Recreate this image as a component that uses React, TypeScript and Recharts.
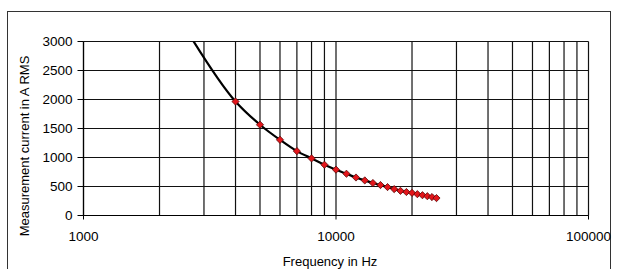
import React from 'react';
import { ComposedChart, Line, Scatter, XAxis, YAxis, CartesianGrid } from 'recharts';

// Measured points (Hz -> A RMS)
const frequencies = [
  4000, 5000, 6000, 7000, 8000, 9000, 10000, 11000, 12000, 13000, 14000,
  15000, 16000, 17000, 18000, 19000, 20000, 21000, 22000, 23000, 24000, 25000,
];
const currents = [
  1965, 1565, 1305, 1110, 985, 875, 790, 720, 655, 605, 560,
  525, 490, 455, 425, 405, 390, 368, 350, 333, 318, 300,
];
// Curve continues to the upper left beyond the plotted points
const curveStartFrequency = 2650;
const curveStartCurrent = 3090;

const xTicks = [
  1000, 2000, 3000, 4000, 5000, 6000, 7000, 8000, 9000,
  10000, 20000, 30000, 40000, 50000, 60000, 70000, 80000, 90000, 100000,
];
const xLabelTicks = [1000, 10000, 100000];
const yTicks = [0, 500, 1000, 1500, 2000, 2500, 3000];

const points = frequencies.map((f, i) => ({ f, a: currents[i] }));
const curve = [{ f: curveStartFrequency, a: curveStartCurrent }, ...points];

const FONT = '"Liberation Sans", Arial, Helvetica, sans-serif';

const X_TICK_SIZE = 4;
const X_TICK_MARGIN = 12;

const Diamond = (props: any) => {
  const { cx, cy } = props;
  if (cx == null || cy == null) return null;
  const r = 3.6;
  return (
    <polygon
      points={`${cx},${cy - r} ${cx + r},${cy} ${cx},${cy + r} ${cx - r},${cy}`}
      fill="#e3161b"
      stroke="#5a0808"
      strokeWidth={0.8}
    />
  );
};

const XTick = (props: any) => {
  const { x, y, payload } = props;
  const v = payload.value;
  if (!xLabelTicks.includes(v)) return null;
  const axisY = y - X_TICK_SIZE - X_TICK_MARGIN;
  return (
    <g>
      <line x1={x} x2={x} y1={axisY} y2={axisY + X_TICK_SIZE} stroke="#000" strokeWidth={1} />
      <text x={x} y={y} dy="0.71em" textAnchor="middle" fontSize={13.5} fontFamily={FONT} fill="#000">
        {v}
      </text>
    </g>
  );
};

const XLabel = () => (
  <text x={330} y={266} textAnchor="middle" fontSize={13} fontFamily={FONT} fill="#000">
    Frequency in Hz
  </text>
);

const YLabel = () => (
  <text
    x={24}
    y={146}
    transform="rotate(-90 24 146)"
    textAnchor="middle"
    dominantBaseline="central"
    fontSize={13}
    fontFamily={FONT}
    fill="#000"
  >
    Measurement current in A RMS
  </text>
);

export default function App() {
  return (
    <div
      style={{
        position: 'absolute',
        left: 0,
        top: 0,
        width: 617,
        height: 269,
        overflow: 'hidden',
        background: '#fff',
        fontFamily: FONT,
      }}
    >
      <div
        style={{
          position: 'absolute',
          left: 7,
          top: 11,
          width: 604,
          height: 300,
          border: '1px solid #333',
          boxSizing: 'border-box',
        }}
      />
      <div style={{ position: 'absolute', left: 0, top: 0 }}>
        <ComposedChart
          width={617}
          height={269}
          margin={{ top: 41.5, right: 28.5, left: 0, bottom: 13.5 }}
        >
          <CartesianGrid stroke="#111" strokeWidth={1.2} />
          <XAxis
            dataKey="f"
            type="number"
            scale="log"
            domain={[1000, 100000]}
            ticks={xTicks}
            interval={0}
            allowDataOverflow
            height={40}
            tickSize={X_TICK_SIZE}
            tickMargin={X_TICK_MARGIN}
            tickLine={false}
            tick={<XTick />}
            axisLine={{ stroke: '#000', strokeWidth: 1.2 }}
            label={<XLabel />}
          />
          <YAxis
            dataKey="a"
            type="number"
            domain={[0, 3000]}
            ticks={yTicks}
            interval={0}
            allowDataOverflow
            width={83.5}
            tickSize={6}
            tickMargin={5}
            tick={{ fontSize: 13.5, fontFamily: FONT, fill: '#000' }}
            tickLine={{ stroke: '#000', strokeWidth: 1 }}
            axisLine={{ stroke: '#000', strokeWidth: 1.2 }}
            label={<YLabel />}
          />
          <Line
            data={curve}
            dataKey="a"
            type="monotone"
            stroke="#000"
            strokeWidth={2.2}
            dot={false}
            activeDot={false}
            isAnimationActive={false}
          />
          <Scatter data={points} dataKey="a" shape={<Diamond />} isAnimationActive={false} />
        </ComposedChart>
      </div>
    </div>
  );
}
